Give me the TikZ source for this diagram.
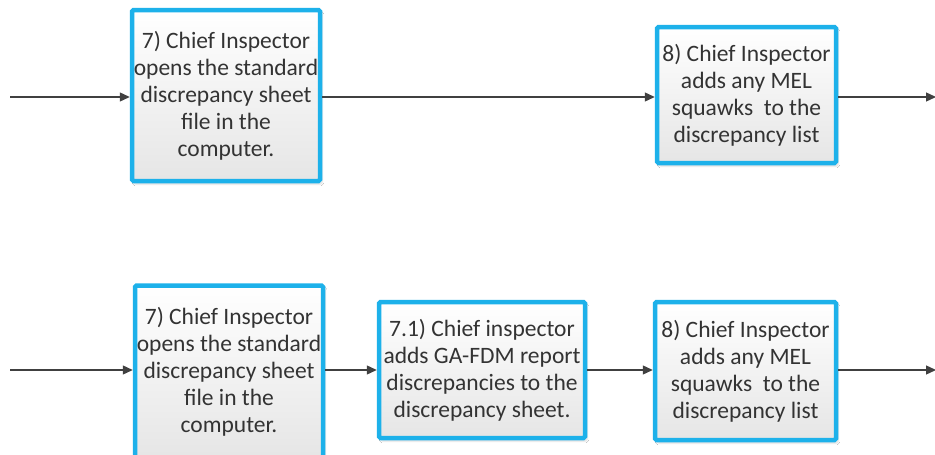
\documentclass[tikz,border=0pt]{standalone}
\usepackage{fontspec}
\setmainfont{Carlito}
\usetikzlibrary{arrows.meta,shadows.blur}
\definecolor{boxblue}{HTML}{1DB1EA}
\definecolor{linegray}{HTML}{404040}
\tikzset{
  stepbox/.style={draw=boxblue, line width=4.5pt, rounded corners=1.5pt,
    top color=white, bottom color=black!10, minimum width=#1,
    align=center, text=black!80, inner sep=0pt,
    font=\fontsize{23.5}{27}\selectfont,
    blur shadow={shadow xshift=2pt, shadow yshift=-3pt, shadow blur steps=6, shadow opacity=15}},
  flow/.style={draw=linegray, line width=1.3pt, -{Triangle[length=10pt,width=9pt]}}
}
\begin{document}
\begin{tikzpicture}[x=1pt,y=-1pt]
\useasboundingbox[fill=white] (0,0) rectangle (935,455);

% upper process row
\node[stepbox=188pt, minimum height=171pt] (a7) at (226,95.5)
  {7) Chief Inspector\\opens the standard\\discrepancy sheet\\file in the\\computer.};
\node[stepbox=179pt, minimum height=136pt] (a8) at (746.5,95)
  {8) Chief Inspector\\adds any MEL\\squawks\ \ to the\\discrepancy list};
\coordinate (ain) at (10,97);
\coordinate (aout) at (936,97);
\draw[flow] (ain) -- (a7.west |- ain);
\draw[flow] (a7.east |- ain) -- (a8.west |- ain);
\draw[flow] (a8.east |- ain) -- (aout);

% lower process row
\node[stepbox=188pt, minimum height=173pt] (b7) at (229,372)
  {7) Chief Inspector\\opens the standard\\discrepancy sheet\\file in the\\computer.};
\node[stepbox=206pt, minimum height=136pt] (b71) at (482,370)
  {7.1) Chief inspector\\adds GA-FDM report\\discrepancies to the\\discrepancy sheet.};
\node[stepbox=181pt, minimum height=138pt] (b8) at (745.5,371)
  {8) Chief Inspector\\adds any MEL\\squawks\ \ to the\\discrepancy list};
\coordinate (bin) at (10,370);
\coordinate (bout) at (936,370);
\draw[flow] (bin) -- (b7.west |- bin);
\draw[flow] (b7.east |- bin) -- (b71.west |- bin);
\draw[flow] (b71.east |- bin) -- (b8.west |- bin);
\draw[flow] (b8.east |- bin) -- (bout);
\end{tikzpicture}
\end{document}
